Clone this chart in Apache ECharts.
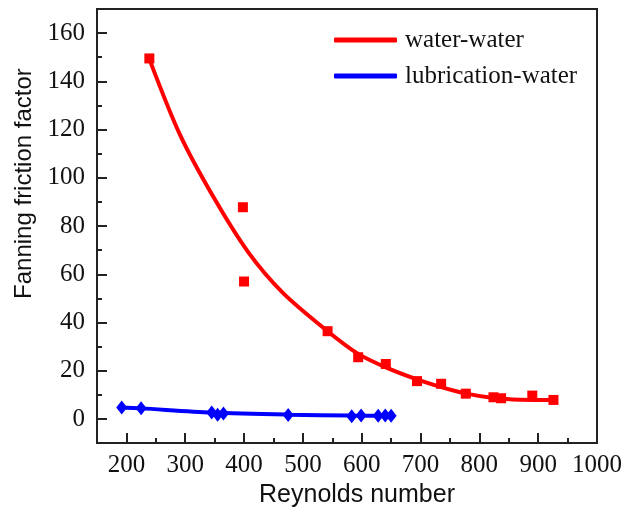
<!DOCTYPE html>
<html>
<head>
<meta charset="utf-8">
<script src="https://cdn.jsdelivr.net/npm/echarts@6/dist/echarts.min.js"></script>
<style>
html,body{margin:0;padding:0;background:#fff;}
#chart{width:627px;height:513px;}
</style>
</head>
<body>
<div id="chart"></div>
<script>
// ---- data ----
const seriesNames = ['water-water', 'lubrication-water'];
const waterX = [239, 398, 400, 542, 594, 641, 694, 735, 777, 824, 837, 890, 926];
const waterY = [149.5, 87.8, 57, 36.4, 25.6, 22.8, 15.7, 14.6, 10.5, 9.0, 8.6, 9.7, 7.9];
const waterFitX = [240, 291, 348, 407, 466, 542, 594, 642, 694, 735, 778, 824, 870, 926];
const waterFitY = [148.6, 117.9, 92.0, 69.2, 52.3, 36.4, 27.0, 21.3, 16.4, 13.2, 10.5, 8.7, 8.0, 7.9];
const lubeX = [192, 225, 345, 355, 365, 475, 583, 599, 628, 640, 650];
const lubeY = [4.8, 4.5, 2.7, 1.8, 2.3, 1.6, 1.1, 1.4, 1.3, 1.4, 1.3];
const lubeFitX = [192, 225, 345, 475, 583, 650];
const lubeFitY = [4.8, 4.4, 2.7, 1.8, 1.4, 1.3];
const xTickLabels = [200, 300, 400, 500, 600, 700, 800, 900, 1000];
const xMinorTicks = [250, 350, 450, 550, 650, 750, 850, 950];
const yTickLabels = [0, 20, 40, 60, 80, 100, 120, 140, 160];
const yMinorTicks = [10, 30, 50, 70, 90, 110, 130, 150];
const xTitle = 'Reynolds number';
const yTitle = 'Fanning friction factor';

const zip = (xs, ys) => xs.map((x, i) => [x, ys[i]]);
const RED = '#ff0000', BLUE = '#0000ff';
const serif = 'Liberation Serif, Times New Roman, serif';
const sans = 'Liberation Sans, Arial, sans-serif';

const chart = echarts.init(document.getElementById('chart'), null, {renderer: 'canvas'});
chart.setOption({
  backgroundColor: '#ffffff',
  animation: false,
  grid: {left: 97, right: 30, top: 9, bottom: 63, show: true, borderColor: '#222', borderWidth: 2, backgroundColor: 'transparent'},
  legend: {
    data: seriesNames,
    orient: 'vertical',
    left: 329, top: 20,
    itemWidth: 63, itemHeight: 5, itemGap: 6,
    icon: 'roundRect',
    textStyle: {fontFamily: serif, fontSize: 25, color: '#111', lineHeight: 30, padding: [0, 0, 0, 3]}
  },
  xAxis: [{
    type: 'value', min: 150, max: 1000,
    name: xTitle, nameLocation: 'middle', nameGap: 39,
    nameTextStyle: {fontFamily: sans, fontSize: 25, color: '#111', padding: [0, 0, 0, 20]},
    axisLine: {show: true, onZero: false, lineStyle: {color: '#222', width: 2}},
    axisTick: {show: true, inside: true, length: 10, lineStyle: {color: '#222', width: 2}, customValues: xTickLabels},
    axisLabel: {show: true, customValues: xTickLabels, formatter: v => String(v), fontFamily: serif, fontSize: 25, color: '#111', margin: 10},
    splitLine: {show: false}
  }, {
    type: 'value', min: 150, max: 1000, position: 'bottom',
    axisLine: {show: false, onZero: false},
    axisTick: {show: true, inside: true, length: 5, lineStyle: {color: '#222', width: 2}, customValues: xMinorTicks},
    axisLabel: {show: false},
    splitLine: {show: false}
  }],
  yAxis: [{
    type: 'value', min: -10, max: 170,
    name: yTitle, nameLocation: 'middle', nameGap: 56,
    nameTextStyle: {fontFamily: sans, fontSize: 24, color: '#111', padding: [0, 0, 0, 85]},
    axisLine: {show: true, onZero: false, lineStyle: {color: '#222', width: 2}},
    axisTick: {show: true, inside: true, length: 10, lineStyle: {color: '#222', width: 2}, customValues: yTickLabels},
    axisLabel: {show: true, customValues: yTickLabels, formatter: v => String(v), fontFamily: serif, fontSize: 25, color: '#111', margin: 12},
    splitLine: {show: false}
  }, {
    type: 'value', min: -10, max: 170, position: 'left',
    axisLine: {show: false, onZero: false},
    axisTick: {show: true, inside: true, length: 5, lineStyle: {color: '#222', width: 2}, customValues: yMinorTicks},
    axisLabel: {show: false},
    splitLine: {show: false}
  }],
  series: [{
    name: seriesNames[0], type: 'line', data: zip(waterFitX, waterFitY),
    smooth: 0.3, showSymbol: false, symbol: 'none',
    lineStyle: {color: RED, width: 4}, itemStyle: {color: RED}, z: 2
  }, {
    name: seriesNames[1], type: 'line', data: zip(lubeFitX, lubeFitY),
    smooth: 0.3, showSymbol: false, symbol: 'none',
    lineStyle: {color: BLUE, width: 4}, itemStyle: {color: BLUE}, z: 2
  }, {
    type: 'scatter', data: zip(waterX, waterY),
    symbol: 'rect', symbolSize: 10, itemStyle: {color: RED, opacity: 1}, z: 3
  }, {
    type: 'scatter', data: zip(lubeX, lubeY),
    symbol: 'diamond', symbolSize: [11, 14], itemStyle: {color: BLUE, opacity: 1}, z: 3
  }]
});
</script>
</body>
</html>
